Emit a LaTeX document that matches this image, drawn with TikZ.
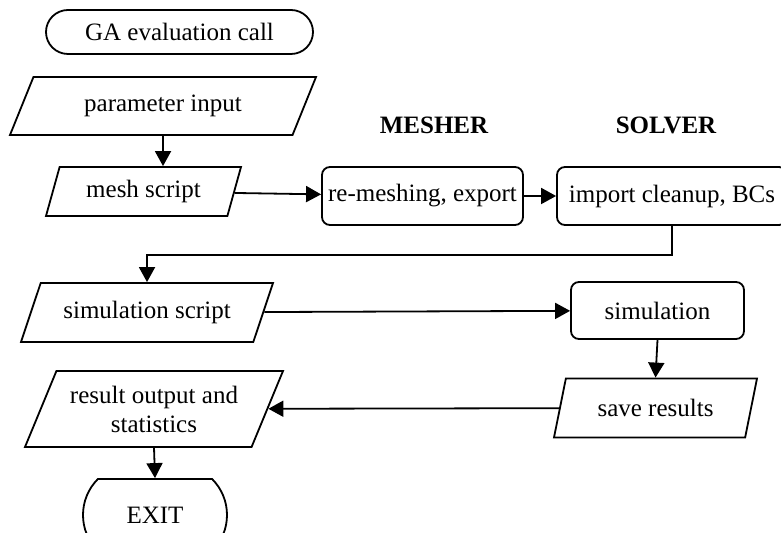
\documentclass[tikz,border=0pt]{standalone}
\usepackage{fontspec}
\setmainfont{Liberation Serif}
\usepackage{tikz}
\usetikzlibrary{positioning,shapes.geometric,shapes.misc,arrows.meta}
\tikzset{
    terminal/.style={
        draw,rounded rectangle,rounded rectangle arc length=180,
        minimum width=#1,minimum height=22pt,inner sep=0pt
    },
    process/.style={
        draw,rounded corners=4pt,
        minimum width=#1,minimum height=29pt,inner sep=1pt
    },
    io/.style={
        draw,trapezium,trapezium stretches body,
        trapezium left angle=#1,trapezium right angle={\the\numexpr180-#1\relax},
        inner sep=0pt,align=center
    },
    >={Triangle[length=7.5pt,width=8pt]}
}

\begin{document}
\begin{tikzpicture}[x=0.5pt,y=-0.5pt,line width=0.9pt,
    font=\fontsize{12.5}{14.5}\selectfont]
\useasboundingbox (0,0) rectangle (781,533);
\begin{scope}
\clip (0,0) rectangle (781,533);
\node[terminal=133.5pt] (start) at (179.5,32) {GA evaluation call};
\node[io=43,minimum width=153pt,minimum height=29pt] (param) at (163,106) {parameter input};
\node[io=59,minimum width=97.5pt,minimum height=24.5pt] (mesh) at (143.5,191.5) {mesh script};
\node[font=\fontsize{12.5}{14.5}\selectfont\bfseries] (mesher) at (434,125) {MESHER};
\node[font=\fontsize{12.5}{14.5}\selectfont\bfseries] (solver) at (666,125) {SOLVER};
\node[process=100.5pt] (remesh) at (422.5,196) {re-meshing, export};
\node[process=115pt] (import) at (672,196) {import cleanup, BCs};
\node[io=49,minimum width=126pt,minimum height=29.5pt] (simscript) at (147,312.5) {simulation script};
\node[process=86.5pt,minimum height=28.5pt] (sim) at (657.5,310.5) {simulation};
\node[io=56,minimum width=101.5pt,minimum height=29.5pt] (save) at (655.5,408) {save results};
\node[io=56,minimum width=129pt,minimum height=38pt] (result) at (154,409) {result output and\\statistics};
\node[terminal=72pt,rounded rectangle arc length=90,minimum height=36pt] (exit) at (155,515) {EXIT};

\draw[->] (param.south) -- (param.south |- mesh.north);
\draw[->] (mesh) -- (remesh);
\draw[->] (remesh) -- (import);
\draw[->] (import.south) -- ++(0,29) -| (simscript.north);
\draw[->] (simscript) -- (sim);
\draw[->] (sim.south) -- (save.north);
\draw[->] (save) -- (result);
\draw[->] (result.south) -- (exit.north);
\end{scope}
\end{tikzpicture}
\end{document}
